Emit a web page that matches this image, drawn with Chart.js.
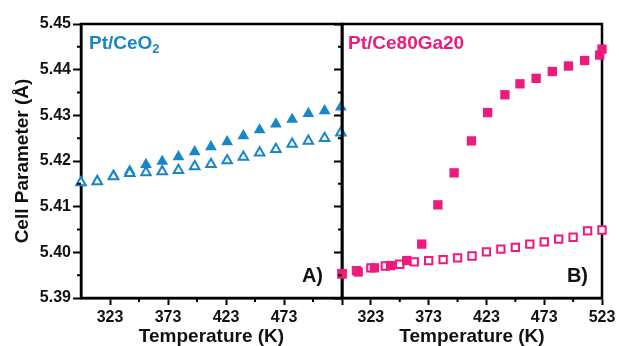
<!DOCTYPE html>
<html>
<head>
<meta charset="utf-8">
<script src="https://cdn.jsdelivr.net/npm/chart.js@4.4.0/dist/chart.umd.min.js"></script>
<style>
    html, body { margin: 0; padding: 0; background: #fff; overflow: hidden; }
    #wrap { position: relative; width: 619px; height: 346px; }
    canvas { position: absolute; top: 0; }
    #leftChart { left: 0; }
    #rightChart { left: 330px; }
</style>
</head>
<body>
<div id="wrap">
    <canvas id="leftChart" width="352" height="346"></canvas>
    <canvas id="rightChart" width="289" height="346"></canvas>
</div>
<script>
// Panel A: Pt/CeO2 (triangles)
const tempCeO2 = [298, 312, 326, 340, 354, 368, 382, 396, 410, 424, 438, 452, 466, 480, 494, 508, 522];
const ceO2Filled = [5.4153, 5.4156, 5.4168, 5.4178, 5.4192, 5.4199, 5.4209, 5.4220, 5.4231, 5.4242, 5.4255, 5.4268, 5.4281, 5.4291, 5.4304, 5.4310, 5.4318];
const ceO2Open = [5.4153, 5.4155, 5.4166, 5.4173, 5.4175, 5.4177, 5.4180, 5.4188, 5.4193, 5.4201, 5.4209, 5.4218, 5.4226, 5.4237, 5.4244, 5.4250, 5.4262];

// Panel B: Pt/Ce80Ga20 (squares)
const tempGaFilled = [298, 312, 326, 340, 354, 367, 381, 395, 410, 424, 439, 452, 466, 480, 494, 508, 521, 523];
const gaFilled = [5.3953, 5.3957, 5.3966, 5.3971, 5.3982, 5.4018, 5.4104, 5.4174, 5.4244, 5.4306, 5.4345, 5.4369, 5.4381, 5.4396, 5.4408, 5.4420, 5.4432, 5.4445];
const tempGaOpen = [298, 310.5, 323, 335.5, 348, 360.5, 373, 385.5, 398, 410.5, 423, 435.5, 448, 460.5, 473, 485.5, 498, 510.5, 523];
const gaOpen = [5.3953, 5.3960, 5.3966, 5.3970, 5.3974, 5.3979, 5.3982, 5.3984, 5.3988, 5.3992, 5.4001, 5.4007, 5.4011, 5.4018, 5.4023, 5.4029, 5.4033, 5.4047, 5.4049];

// axes
const xTicks = [323, 348, 373, 398, 423, 448, 473, 498, 523];
const xMajor = [323, 373, 423, 473, 523];
const xLabelsLeft = [323, 373, 423, 473];
const xLabelsRight = [323, 373, 423, 473, 523];
const yTicks = [5.39, 5.395, 5.40, 5.405, 5.41, 5.415, 5.42, 5.425, 5.43, 5.435, 5.44, 5.445, 5.45];

const BLUE = '#1787c9';
const PINK = '#ef1b7c';
const INK = '#111';
const FONT = 'Liberation Sans, Arial, sans-serif';
const LINE = 2.5;

const toPoints = (xs, ys) => xs.map((x, i) => ({ x: x, y: ys[i] }));
const isMajorX = v => xMajor.includes(v);
const isMajorY = i => i % 2 === 0;

// frame round the plot area, under the markers
const framePlugin = {
    id: 'frame',
    beforeDatasetsDraw(chart) {
        const { ctx, chartArea: a } = chart;
        ctx.save();
        ctx.strokeStyle = '#000';
        ctx.lineWidth = LINE;
        ctx.strokeRect(a.left, a.top, a.right - a.left, a.bottom - a.top);
        ctx.restore();
    }
};

// short minor ticks (the library draws all ticks the same length)
const minorTickPlugin = {
    id: 'minorTicks',
    afterDraw(chart) {
        const { ctx, chartArea: a, scales } = chart;
        ctx.save();
        ctx.strokeStyle = '#000';
        ctx.lineWidth = 2;
        ctx.beginPath();
        xTicks.forEach(v => {
            if (isMajorX(v)) return;
            const px = scales.x.getPixelForValue(v);
            ctx.moveTo(px, a.bottom);
            ctx.lineTo(px, a.bottom + 4);
        });
        yTicks.forEach((v, i) => {
            if (isMajorY(i)) return;
            const py = scales.y.getPixelForValue(v);
            ctx.moveTo(a.left - 4, py);
            ctx.lineTo(a.left, py);
        });
        ctx.stroke();
        ctx.restore();
    }
};

// sample name and panel letter
const panelTextPlugin = {
    id: 'panelText',
    afterDraw(chart, args, opts) {
        const { ctx, chartArea: a } = chart;
        ctx.save();
        ctx.textBaseline = 'alphabetic';
        ctx.textAlign = 'left';
        ctx.fillStyle = opts.color;
        ctx.font = 'bold 19px ' + FONT;
        ctx.fillText(opts.name, a.left + opts.nameDx, a.top + 25);
        if (opts.sub) {
            const w = ctx.measureText(opts.name).width;
            ctx.font = 'bold 13px ' + FONT;
            ctx.fillText(opts.sub, a.left + opts.nameDx + w, a.top + 29);
        }
        ctx.fillStyle = INK;
        ctx.font = 'bold 20px ' + FONT;
        ctx.textAlign = 'right';
        ctx.fillText(opts.tag, a.right - opts.tagDx, a.bottom - 16);
        ctx.restore();
    }
};

function xScale(labels) {
    return {
        type: 'linear',
        min: 298,
        max: 523,
        afterBuildTicks: axis => { axis.ticks = xTicks.map(v => ({ value: v })); },
        afterFit: axis => { axis.height = 48; },
        ticks: {
            autoSkip: false,
            maxRotation: 0,
            padding: 3,
            color: INK,
            font: { family: FONT, size: 16, weight: 'bold' },
            callback: v => labels.includes(v) ? String(v) : ''
        },
        grid: {
            drawOnChartArea: false, drawTicks: true, tickLength: 7, tickWidth: 2,
            tickColor: c => (c.tick && isMajorX(c.tick.value)) ? '#000' : 'rgba(0,0,0,0)'
        },
        border: { color: '#000', width: LINE },
        title: {
            display: true,
            text: 'Temperature (K)',
            color: INK,
            padding: 0,
            font: { family: FONT, size: 19, weight: 'bold', lineHeight: 1 }
        }
    };
}

function yScale(showLabels, width) {
    return {
        type: 'linear',
        min: 5.39,
        max: 5.45,
        afterBuildTicks: axis => { axis.ticks = yTicks.map(v => ({ value: v })); },
        afterFit: axis => { axis.width = width; },
        ticks: {
            autoSkip: false,
            padding: 2,
            color: INK,
            font: { family: FONT, size: 16, weight: 'bold' },
            callback: (v, i) => (showLabels && isMajorY(i)) ? v.toFixed(2) : ''
        },
        grid: {
            drawOnChartArea: false, drawTicks: true, tickLength: 8, tickWidth: 2,
            tickColor: c => isMajorY(c.index) ? '#000' : 'rgba(0,0,0,0)'
        },
        border: { color: '#000', width: LINE },
        title: {
            display: showLabels,
            text: 'Cell Parameter (Å)',
            color: INK,
            padding: { top: 13, bottom: 0 },
            font: { family: FONT, size: 19, weight: 'bold', lineHeight: 1 }
        }
    };
}

const baseOptions = {
    responsive: false,
    animation: false,
    plugins: { legend: { display: false }, tooltip: { enabled: false } }
};

new Chart(document.getElementById('leftChart'), {
    type: 'scatter',
    data: {
        datasets: [{
            label: 'open',
            data: toPoints(tempCeO2, ceO2Open),
            pointStyle: 'triangle',
            pointRadius: 5.5,
            backgroundColor: '#fff',
            borderColor: BLUE,
            borderWidth: 2,
            order: 0,
            clip: false
        }, {
            label: 'filled',
            data: toPoints(tempCeO2, ceO2Filled),
            pointStyle: 'triangle',
            pointRadius: 6.8,
            backgroundColor: BLUE,
            borderColor: BLUE,
            borderWidth: 0,
            order: 1,
            clip: false
        }]
    },
    options: {
        ...baseOptions,
        layout: { padding: { top: 24, right: 10, bottom: 0, left: 0 } },
        scales: { x: xScale(xLabelsLeft), y: yScale(true, 81) },
        plugins: {
            ...baseOptions.plugins,
            panelText: { name: 'Pt/CeO', sub: '2', color: BLUE, nameDx: 8, tag: 'A)', tagDx: 19 }
        }
    },
    plugins: [framePlugin, minorTickPlugin, panelTextPlugin]
});

new Chart(document.getElementById('rightChart'), {
    type: 'scatter',
    data: {
        datasets: [{
            label: 'filled',
            data: toPoints(tempGaFilled, gaFilled),
            pointStyle: 'rect',
            pointRadius: 6.6,
            backgroundColor: PINK,
            borderColor: PINK,
            borderWidth: 0,
            order: 0,
            clip: false
        }, {
            label: 'open',
            data: toPoints(tempGaOpen, gaOpen),
            pointStyle: 'rect',
            pointRadius: 5.2,
            backgroundColor: '#fff',
            borderColor: PINK,
            borderWidth: 2,
            order: 1,
            clip: false
        }]
    },
    options: {
        ...baseOptions,
        layout: { padding: { top: 24, right: 17, bottom: 0, left: 0 } },
        scales: { x: xScale(xLabelsRight), y: yScale(false, 12) },
        plugins: {
            ...baseOptions.plugins,
            panelText: { name: 'Pt/Ce80Ga20', sub: '', color: PINK, nameDx: 6, tag: 'B)', tagDx: 14 }
        }
    },
    plugins: [framePlugin, minorTickPlugin, panelTextPlugin]
});
</script>
</body>
</html>
